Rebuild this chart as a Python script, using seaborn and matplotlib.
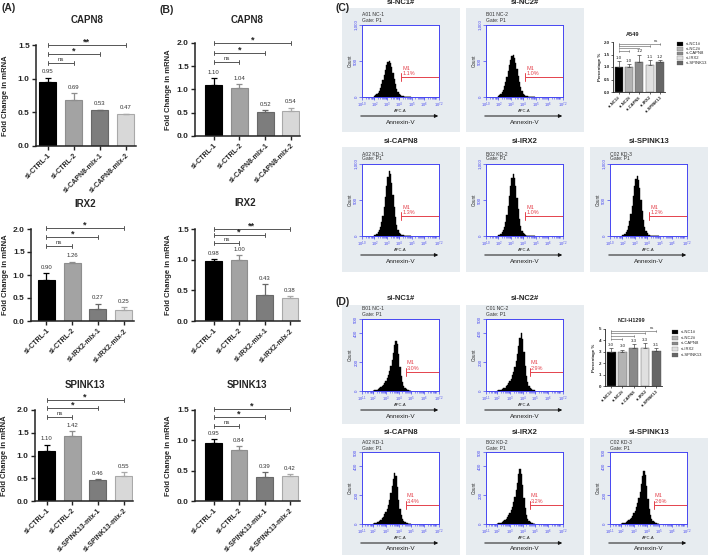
import numpy as np
import pandas as pd
import matplotlib
matplotlib.use("Agg")
import matplotlib.pyplot as plt
from matplotlib.patches import Rectangle, FancyArrowPatch
import seaborn as sns

sns.set_theme(style="ticks")
plt.rcParams["font.family"] = ["Liberation Sans", "DejaVu Sans"]
plt.rcParams["mathtext.fontset"] = "custom"
plt.rcParams["mathtext.rm"] = "Liberation Sans"

# ---------------- data ----------------
ctrl_cats = ["si-CTRL-1", "si-CTRL-2"]
capn8_cats = ctrl_cats + ["si-CAPN8-mix-1", "si-CAPN8-mix-2"]
irx2_cats = ctrl_cats + ["si-IRX2-mix-1", "si-IRX2-mix-2"]
spink13_cats = ctrl_cats + ["si-SPINK13-mix-1", "si-SPINK13-mix-2"]

a_capn8 = [0.95, 0.69, 0.53, 0.47]
a_capn8_sd = [0.06, 0.09, 0.01, 0.01]
a_irx2 = [0.90, 1.26, 0.27, 0.25]
a_irx2_sd = [0.14, 0.03, 0.11, 0.05]
a_spink13 = [1.10, 1.42, 0.46, 0.55]
a_spink13_sd = [0.14, 0.12, 0.03, 0.09]
b_capn8 = [1.10, 1.04, 0.52, 0.54]
b_capn8_sd = [0.14, 0.07, 0.04, 0.07]
b_irx2 = [0.98, 1.00, 0.43, 0.38]
b_irx2_sd = [0.03, 0.08, 0.17, 0.03]
b_spink13 = [0.95, 0.84, 0.39, 0.42]
b_spink13_sd = [0.07, 0.06, 0.08, 0.02]

sig_a_capn8 = ["ns", "*", "**"]
sig_a_irx2 = ["ns", "*", "*"]
sig_a_spink13 = ["ns", "*", "*"]
sig_b_capn8 = ["ns", "*", "*"]
sig_b_irx2 = ["ns", "*", "**"]
sig_b_spink13 = ["ns", "*", "*"]

groups = ["si-NC1#", "si-NC2#", "si-CAPN8", "si-IRX2", "si-SPINK13"]
a549_pct = [1.0, 1.0, 1.2, 1.1, 1.2]
a549_sd = [0.25, 0.12, 0.30, 0.20, 0.10]
h1299_pct = [3.0, 3.0, 3.3, 3.3, 3.1]
h1299_sd = [0.30, 0.20, 0.35, 0.45, 0.20]

# flow cytometry histograms: counts per 0.1-decade bin of log10(APC-A), bins 2.0 .. 4.9
hist_bins = np.round(np.arange(2.0, 4.95, 0.1), 1)
c_nc1 = [15, 25, 40, 60, 90, 130, 180, 240, 310, 380, 440, 485, 500, 470, 410, 330, 250, 175, 115, 70, 40, 22, 12, 7, 4, 3, 2, 1, 1, 0]
c_nc2 = [17, 29, 46, 70, 104, 150, 210, 280, 360, 440, 510, 563, 580, 545, 475, 383, 290, 203, 133, 81, 46, 26, 14, 8, 5, 3, 2, 1, 1, 0]
c_capn8 = [10, 18, 30, 50, 80, 125, 190, 280, 400, 540, 690, 820, 900, 860, 740, 570, 400, 260, 150, 80, 42, 22, 12, 7, 4, 3, 2, 1, 1, 0]
c_irx2 = [10, 18, 30, 50, 80, 125, 190, 285, 410, 550, 690, 810, 860, 810, 690, 530, 370, 240, 140, 75, 40, 21, 11, 6, 4, 3, 2, 1, 0, 0]
c_spink13 = [11, 20, 33, 55, 88, 135, 205, 300, 420, 560, 690, 790, 830, 780, 660, 500, 350, 225, 130, 70, 37, 20, 11, 6, 4, 3, 2, 1, 0, 0]
d_nc1 = [3, 5, 7, 10, 14, 19, 25, 33, 43, 55, 70, 88, 110, 138, 172, 215, 265, 320, 350, 325, 255, 170, 105, 62, 35, 20, 12, 8, 5, 3]
d_nc2 = [2, 4, 6, 9, 13, 18, 24, 32, 42, 54, 68, 86, 108, 135, 168, 208, 258, 315, 370, 400, 360, 270, 175, 105, 60, 34, 20, 12, 7, 4]
d_capn8 = [3, 5, 8, 11, 16, 22, 30, 40, 52, 67, 85, 107, 135, 170, 212, 262, 315, 352, 330, 255, 170, 105, 62, 36, 21, 13, 8, 5, 3, 2]
d_irx2 = [3, 5, 7, 10, 14, 20, 27, 36, 47, 60, 76, 96, 120, 150, 187, 233, 287, 345, 380, 350, 270, 180, 110, 64, 37, 22, 13, 8, 5, 3]
d_spink13 = [3, 5, 7, 10, 14, 19, 26, 34, 45, 58, 73, 92, 115, 144, 180, 224, 276, 332, 365, 338, 262, 175, 107, 62, 36, 21, 13, 8, 5, 3]
c_m1_pct = ["1.1%", "1.0%", "1.3%", "1.0%", "1.2%"]
d_m1_pct = ["3.0%", "2.9%", "3.4%", "3.2%", "2.6%"]
c_headers = ["A01 NC-1", "B01 NC-2", "A02 KD-1", "B02 KD-2", "C02 KD-3"]
d_headers = ["B01 NC-1", "C01 NC-2", "A02 KD-1", "B02 KD-2", "C02 KD-3"]

# ---------------- figure helpers ----------------
W, H = 709, 555
fig = plt.figure(figsize=(W / 100, H / 100), dpi=100)
fig.patch.set_facecolor("white")


def px_axes(x0, y0, x1, y1):
    return fig.add_axes([x0 / W, 1 - y1 / H, (x1 - x0) / W, (y1 - y0) / H])


def ftext(x, y, s, **kw):
    kw.setdefault("ha", "center")
    kw.setdefault("va", "center")
    return fig.text(x / W, 1 - y / H, s, **kw)


bar_cols = ["#000000", "#a3a3a3", "#7d7d7d", "#d8d8d8"]
edge_cols = ["#000000", "#8e8e8e", "#686868", "#a9a9a9"]
BR = "#555555"


def qpcr_panel(cats, vals, sds, sigs, box, xlim, ymax, levels, title, title_xy, ylab_x):
    ax = px_axes(*box)
    df = pd.DataFrame({"g": cats, "v": vals})
    sns.barplot(data=df, x="g", y="v", hue="g", palette=bar_cols, legend=False,
                width=0.66, saturation=1, errorbar=None, ax=ax)
    for p, ec in zip(ax.patches, edge_cols):
        p.set_edgecolor(ec)
        p.set_linewidth(0.8)
    for i, (v, s) in enumerate(zip(vals, sds)):
        ax.errorbar(i, v, yerr=[[0], [s]], fmt="none", ecolor=edge_cols[i],
                    elinewidth=0.9, capsize=2.5, capthick=0.9, zorder=3)
        ax.text(i, v + s + ymax * 0.035, f"{v:.2f}", ha="center", va="bottom",
                fontsize=4.3, color="#333333")
    d = ymax * 0.022
    for end, lvl, s in zip([1, 2, 3], levels, sigs):
        ax.plot([0, end], [lvl, lvl], color=BR, lw=0.7, clip_on=False)
        for xx in (0, end):
            ax.plot([xx, xx], [lvl - d, lvl + d], color=BR, lw=0.7, clip_on=False)
        if s == "ns":
            ax.text(end / 2, lvl + d * 0.6, s, ha="center", va="bottom", fontsize=4.3, color="#333333")
        else:
            ax.text(end / 2, lvl - d * 0.8, s, ha="center", va="bottom", fontsize=6.5,
                    fontweight="bold", color="#222222")
    ax.set_xlim(*xlim)
    ax.set_ylim(0, ymax)
    ax.set_yticks(np.arange(0, ymax + 0.01, 0.5))
    ax.set_yticklabels([f"{t:.1f}" for t in np.arange(0, ymax + 0.01, 0.5)],
                       fontsize=6, fontweight="bold")
    ax.set_xticks(range(4))
    ax.set_xticklabels(cats, rotation=45, ha="right", rotation_mode="anchor",
                       fontsize=5, fontweight="bold")
    ax.set_xlabel("")
    ax.set_ylabel("")
    ax.tick_params(axis="both", length=3, width=1, pad=1.5, color="#222222")
    for sp in ("top", "right"):
        ax.spines[sp].set_visible(False)
    for sp in ("left", "bottom"):
        ax.spines[sp].set_linewidth(1.1)
        ax.spines[sp].set_color("#222222")
    ftext(*title_xy, title, fontsize=7, fontweight="bold")
    ftext(ylab_x, (box[1] + box[3]) / 2, "Fold Change in mRNA", rotation=90,
          fontsize=5.5, fontweight="bold")
    return ax


qpcr_panel(capn8_cats, a_capn8, a_capn8_sd, sig_a_capn8, (36, 45, 136, 146), (-0.45, 3.4), 1.5,
           [1.23, 1.37, 1.50], "CAPN8", (87, 20), 6)
qpcr_panel(irx2_cats, a_irx2, a_irx2_sd, sig_a_irx2, (31, 229, 134, 321), (-0.6, 3.4), 2.0,
           [1.63, 1.83, 2.02], "IRX2", (85, 204), 6)
qpcr_panel(spink13_cats, a_spink13, a_spink13_sd, sig_a_spink13, (35, 410, 133, 501), (-0.45, 3.37), 2.0,
           [1.85, 2.04, 2.22], "SPINK13", (85, 385), 5)
qpcr_panel(capn8_cats, b_capn8, b_capn8_sd, sig_b_capn8, (195, 43, 300, 136), (-0.72, 3.35), 2.0,
           [1.59, 1.78, 2.0], "CAPN8", (247, 20), 168)
qpcr_panel(irx2_cats, b_irx2, b_irx2_sd, sig_b_irx2, (195, 229, 300, 321), (-0.73, 3.39), 1.5,
           [1.27, 1.40, 1.50], "IRX2", (245, 203), 168)
qpcr_panel(spink13_cats, b_spink13, b_spink13_sd, sig_b_spink13, (195, 410, 300, 501), (-0.73, 3.39), 1.5,
           [1.24, 1.38, 1.52], "SPINK13", (247, 385), 168)

# ---------------- flow cytometry panels ----------------
BLUE = "#4646f2"
RED = "#e4424c"
BOXC = "#e7ecf0"

sec_c = dict(xmin=1.0, xmin_lab="1.0", ymax=1000, yticks=[0, 500, 1000], ylabs=["0", "500", "1,000"],
             gate_lo=4.15, gate_y=280, gate_t=55, m1_y=400, pct_y=322,
             head1=7, head2=12, top=17, apc=14, arrow=19, annex=25.5)
sec_d = dict(xmin=1.1, xmin_lab="1.1", ymax=500, yticks=[0, 200, 400, 500], ylabs=["0", "200", "400", "500"],
             gate_lo=4.55, gate_y=132, gate_t=28, m1_y=196, pct_y=158,
             head1=4, head2=10, top=14, apc=14, arrow=19, annex=25)


def flow_panel(bx, by, bw, bh, title, header, counts, pct, sec):
    fig.add_artist(Rectangle((bx / W, 1 - (by + bh) / H), bw / W, bh / H, transform=fig.transFigure,
                             facecolor=BOXC, edgecolor="none", zorder=0))
    ftext(bx + bw / 2, by - 6, title, fontsize=5.5, fontweight="bold")
    px0, py0 = bx + 20, by + sec["top"]
    ax = px_axes(px0, py0, px0 + 77, py0 + 72)
    ax.set_facecolor("white")
    sns.histplot(x=hist_bins, weights=counts, bins=30, binrange=(1.95, 4.95), element="step",
                 fill=True, color="black", alpha=1, linewidth=0.3, ax=ax)
    ax.set_xlim(sec["xmin"], 7.2)
    ax.set_ylim(0, sec["ymax"])
    xt = [sec["xmin"], 2, 3, 4, 5, 6, 7.2]
    xl = [sec["xmin_lab"], "2", "3", "4", "5", "6", "7.2"]
    ax.set_xticks(xt)
    ax.set_xticklabels([r"$10^{%s}$" % s for s in xl], fontsize=2.8, color=BLUE)
    minors = [n + np.log10(k) for n in range(1, 8) for k in range(2, 10)
              if sec["xmin"] < n + np.log10(k) < 7.2]
    ax.set_xticks(minors, minor=True)
    ax.set_yticks(sec["yticks"])
    ax.set_yticklabels(sec["ylabs"], fontsize=3.2, color=BLUE, rotation=90, va="center")
    ax.tick_params(axis="both", which="major", length=2, width=0.5, color=BLUE, pad=0.6)
    ax.tick_params(axis="x", which="minor", length=1.3, width=0.4, color=BLUE)
    for sp in ax.spines.values():
        sp.set_color(BLUE)
        sp.set_linewidth(0.7)
    ax.set_xlabel("")
    ax.set_ylabel("Count", fontsize=3.3, labelpad=1.5)
    lo, gy, gt = sec["gate_lo"], sec["gate_y"], sec["gate_t"]
    ax.plot([lo, 7.2], [gy, gy], color=RED, lw=0.7, clip_on=False)
    for xx in (lo, 7.2):
        ax.plot([xx, xx], [gy - gt, gy + gt], color=RED, lw=0.7, clip_on=False)
    ax.text(lo + 0.08, sec["m1_y"], "M1", color=RED, fontsize=4, ha="left", va="center")
    ax.text(lo + 0.08, sec["pct_y"], pct, color=RED, fontsize=4, ha="left", va="center")
    ftext(px0, by + sec["head1"], header, ha="left", fontsize=3.6, color="#333333")
    ftext(px0, by + sec["head2"], "Gate: P1", ha="left", fontsize=3.6, color="#333333")
    pb = py0 + 72
    ftext(px0 + 38.5, pb + sec["apc"], "APC-A", fontsize=3, color="#222222")
    fig.add_artist(FancyArrowPatch(((bx + 16) / W, 1 - (pb + sec["arrow"]) / H),
                                   ((bx + 99) / W, 1 - (pb + sec["arrow"]) / H),
                                   transform=fig.transFigure, arrowstyle="-|>", mutation_scale=5,
                                   lw=0.7, color="#111111"))
    ftext(px0 + 38.5, pb + sec["annex"], "Annexin-V", fontsize=4.6, color="#222222")


c_hists = [c_nc1, c_nc2, c_capn8, c_irx2, c_spink13]
d_hists = [d_nc1, d_nc2, d_capn8, d_irx2, d_spink13]
titles = ["si-NC1#", "si-NC2#", "si-CAPN8", "si-IRX2", "si-SPINK13"]
c_boxes = [(342, 8, 118, 124), (466, 8, 118, 124), (342, 147, 118, 125), (466, 147, 118, 125), (590, 147, 118, 125)]
d_boxes = [(342, 305, 118, 119), (466, 305, 118, 119), (342, 438, 118, 117), (466, 438, 118, 117), (590, 438, 118, 117)]
for i in range(5):
    flow_panel(*c_boxes[i], titles[i], c_headers[i], c_hists[i], c_m1_pct[i], sec_c)
    flow_panel(*d_boxes[i], titles[i], d_headers[i], d_hists[i], d_m1_pct[i], sec_d)

# ---------------- apoptosis percentage bar charts ----------------
pct_cols = ["#000000", "#b3b3b3", "#8a8a8a", "#e0e0e0", "#666666"]


def pct_panel(box, vals, sds, ymax, yticks, ylabs, levels, title, title_xy, ylab_x, leg_x, leg_y, leg_dy):
    ax = px_axes(*box)
    df = pd.DataFrame({"g": groups, "v": vals})
    sns.barplot(data=df, x="g", y="v", hue="g", palette=pct_cols, legend=False,
                width=0.78, saturation=1, errorbar=None, ax=ax)
    for p in ax.patches:
        p.set_edgecolor("#555555")
        p.set_linewidth(0.3)
    for i, (v, s) in enumerate(zip(vals, sds)):
        ax.errorbar(i, v, yerr=[[0], [s]], fmt="none", ecolor="#444444", elinewidth=0.5,
                    capsize=1.2, capthick=0.5)
        ax.text(i, v + s + ymax * 0.02, f"{v:.1f}", ha="center", va="bottom", fontsize=3.2)
    d = ymax * 0.015
    for end, lvl in zip([1, 2, 3, 4], levels):
        ax.plot([0, end], [lvl, lvl], color=BR, lw=0.4, clip_on=False)
        for xx in (0, end):
            ax.plot([xx, xx], [lvl - d, lvl + d], color=BR, lw=0.4, clip_on=False)
    ax.text(3.6, levels[-1] + d, "ns", ha="center", va="bottom", fontsize=3, color="#333333")
    ax.set_xlim(-0.55, 4.5)
    ax.set_ylim(0, ymax)
    ax.set_yticks(yticks)
    ax.set_yticklabels(ylabs, fontsize=3.2, fontweight="bold")
    ax.set_xticks(range(5))
    ax.set_xticklabels(groups, rotation=45, ha="right", rotation_mode="anchor", fontsize=3,
                       fontweight="bold")
    ax.set_xlabel("")
    ax.set_ylabel("")
    ax.tick_params(axis="both", length=1.5, width=0.5, pad=1)
    for sp in ("top", "right"):
        ax.spines[sp].set_visible(False)
    for sp in ("left", "bottom"):
        ax.spines[sp].set_linewidth(0.6)
        ax.spines[sp].set_color("#222222")
    ftext(*title_xy, title, fontsize=4, fontweight="bold")
    ftext(ylab_x, (box[1] + box[3]) / 2, "Percentage %", rotation=90, fontsize=3.2, fontweight="bold")
    for i, g in enumerate(groups):
        yy = leg_y + i * leg_dy
        fig.add_artist(Rectangle((leg_x / W, 1 - (yy + 1.8) / H), 6 / W, 3.6 / H,
                                 transform=fig.transFigure, facecolor=pct_cols[i],
                                 edgecolor="#555555", linewidth=0.2))
        ftext(leg_x + 8.5, yy, g, ha="left", fontsize=3)


pct_panel((613, 42, 665, 92), a549_pct, a549_sd, 2.0, [0, 0.5, 1.0, 1.5, 2.0],
          ["0.0", "0.5", "1.0", "1.5", "2.0"], [1.64, 1.75, 1.84, 1.92], "A549", (633, 34), 600,
          677, 44, 4.7)
pct_panel((605, 329, 662, 386), h1299_pct, h1299_sd, 5, [0, 1, 2, 3, 4, 5],
          ["0", "1", "2", "3", "4", "5"], [4.12, 4.39, 4.62, 4.82], "NCI-H1299", (631, 321), 594,
          672, 332, 5.7)

# ---------------- panel letters ----------------
ftext(2, 8, "(A)", ha="left", fontsize=7.5, fontweight="bold")
ftext(160, 10, "(B)", ha="left", fontsize=7.5, fontweight="bold")
ftext(335, 8, "(C)", ha="left", fontsize=7.5, fontweight="bold")
ftext(335, 302, "(D)", ha="left", fontsize=7.5, fontweight="bold")

fig.savefig("out.png", dpi=100)
